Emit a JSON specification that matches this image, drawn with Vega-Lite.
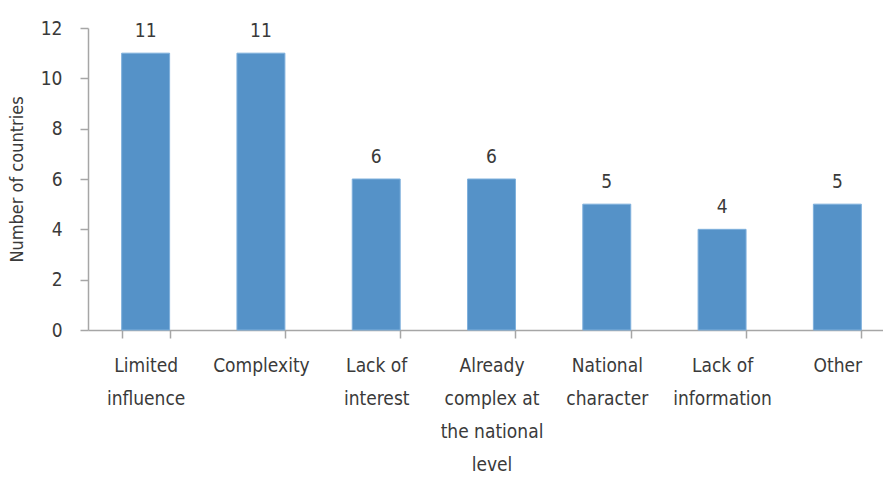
{
  "$schema": "https://vega.github.io/schema/vega-lite/v6.json",
  "width": 795,
  "height": 302,
  "autosize": {"type": "none"},
  "padding": {"left": 88, "top": 28, "right": 0, "bottom": 147},
  "background": "white",
  "config": {
    "view": {"stroke": null},
    "font": "DejaVu Sans Condensed, Roboto, sans-serif",
    "axis": {
      "labelFont": "DejaVu Sans Condensed, Roboto, sans-serif",
      "titleFont": "DejaVu Sans Condensed, Roboto, sans-serif",
      "labelColor": "#3a3a3a",
      "titleColor": "#3a3a3a",
      "labelFontSize": 19,
      "titleFontSize": 18,
      "titleFontWeight": "normal",
      "domainColor": "#a6a6a6",
      "tickColor": "#a6a6a6",
      "domainWidth": 1.5,
      "tickWidth": 1.5,
      "tickSize": 8,
      "grid": false
    }
  },
  "data": {
    "values": [
      {"reason": "Limited\ninfluence", "countries": 11},
      {"reason": "Complexity", "countries": 11},
      {"reason": "Lack of\ninterest", "countries": 6},
      {"reason": "Already\ncomplex at\nthe national\nlevel", "countries": 6},
      {"reason": "National\ncharacter", "countries": 5},
      {"reason": "Lack of\ninformation", "countries": 4},
      {"reason": "Other", "countries": 5}
    ]
  },
  "encoding": {
    "x": {
      "field": "reason",
      "type": "nominal",
      "sort": null,
      "scale": {"range": [0, 807], "paddingInner": 0.584, "paddingOuter": 0.292},
      "axis": {
        "title": null,
        "labelAngle": 0,
        "labelPadding": 18,
        "labelLineHeight": 33,
        "labelBaseline": "top",
        "tickBand": "extent",
        "labelExpr": "isValid(datum.value) ? split(datum.value, '\\n') : ''"
      }
    },
    "y": {
      "field": "countries",
      "type": "quantitative",
      "scale": {"domain": [0, 12], "nice": false},
      "axis": {
        "title": "Number of countries",
        "values": [0, 2, 4, 6, 8, 10, 12],
        "labelPadding": 18,
        "titlePadding": 14
      }
    }
  },
  "layer": [
    {
      "mark": {"type": "bar", "color": "#5592c8", "stroke": "#7fb0dc", "strokeWidth": 1}
    },
    {
      "mark": {"type": "text", "baseline": "alphabetic", "dy": -16, "fontSize": 19, "color": "#3a3a3a", "font": "DejaVu Sans Condensed, Roboto, sans-serif"},
      "encoding": {"text": {"field": "countries", "type": "quantitative"}}
    }
  ]
}
